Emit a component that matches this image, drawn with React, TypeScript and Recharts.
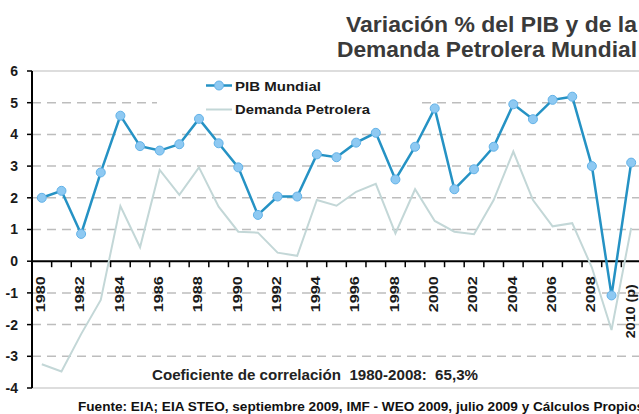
import { LineChart, Line, XAxis, YAxis, ReferenceLine } from 'recharts';

const YEARS = [
    '1980', '1981', '1982', '1983', '1984', '1985', '1986', '1987', '1988', '1989',
    '1990', '1991', '1992', '1993', '1994', '1995', '1996', '1997', '1998', '1999',
    '2000', '2001', '2002', '2003', '2004', '2005', '2006', '2007', '2008', '2009',
    '2010 (p)',
];

const PIB = [
    2.0, 2.22, 0.86, 2.8, 4.59, 3.63, 3.49, 3.69, 4.49, 3.72,
    2.96, 1.46, 2.04, 2.04, 3.37, 3.28, 3.74, 4.05, 2.58, 3.61,
    4.82, 2.27, 2.9, 3.61, 4.95, 4.48, 5.09, 5.19, 3.0, -1.08,
    3.11,
];

const DEMANDA = [
    -3.25, -3.48, -2.3, -1.22, 1.74, 0.44, 2.88, 2.09, 2.96, 1.72,
    0.93, 0.9, 0.27, 0.17, 1.93, 1.75, 2.19, 2.44, 0.88, 2.27,
    1.27, 0.93, 0.85, 1.93, 3.46, 1.93, 1.1, 1.2, -0.2, -2.17,
    1.05,
];

const Y_TICKS = [-4, -3, -2, -1, 0, 1, 2, 3, 4, 5, 6];
const DASHED = [5, 4, 3, 2, 1, -1, -2, -3];

const data = YEARS.map((year, i) => ({ year, pib: PIB[i], demanda: DEMANDA[i] }));

const FONT = '"Liberation Sans", Arial, sans-serif';
const BLUE = '#2592c4';
const GREY_LINE = '#c3d7d7';

// chart frame
const W = 641;
const H = 414;
const TOP = 71;
const X_H = 26;
const Y_W = 32;
const PLOT_H = H - TOP - X_H;
const ZERO_Y = TOP + PLOT_H * (6 / 10);
const HALF = (W - Y_W) / YEARS.length / 2;

const XTick = (props: any) => {
    const { x, index } = props;
    const label = YEARS[index];
    const last = index === YEARS.length - 1;
    const len = last ? 54 : 36;
    const bottom = ZERO_Y + (last ? 23 : 15) + len;
    return (
        <g>
            <line x1={x - HALF} x2={x - HALF} y1={ZERO_Y} y2={ZERO_Y + 6} stroke="#000" strokeWidth={1.5} />
            {index % 2 === 0 && (
                <text
                    transform={`translate(${x - 1},${bottom}) rotate(-90)`}
                    textAnchor="start"
                    dy="0.36em"
                    fontFamily={FONT}
                    fontWeight="bold"
                    fontSize={12}
                    fill="#1a1a1a"
                    textLength={len}
                    lengthAdjust="spacingAndGlyphs"
                >
                    {label}
                </text>
            )}
        </g>
    );
};

export default function App() {
    return (
        <div style={{ position: 'absolute', left: 0, top: 0, width: 639, height: 414, overflow: 'hidden', background: '#fff' }}>
            <LineChart width={W} height={H} data={data} margin={{ top: TOP, right: 0, bottom: 0, left: 0 }}>
                {DASHED.map((v) => (
                    <ReferenceLine key={v} y={v} stroke="#bdbdbd" strokeWidth={1.5} strokeDasharray="9 6" />
                ))}
                <ReferenceLine y={6} stroke="#d2d2d2" strokeWidth={1.5} />
                <ReferenceLine y={-4} stroke="#d2d2d2" strokeWidth={1.5} />
                <XAxis
                    dataKey="year"
                    interval={0}
                    height={X_H}
                    padding={{ left: HALF, right: HALF }}
                    axisLine={false}
                    tickLine={false}
                    tick={(p: any) => <XTick {...p} />}
                />
                <YAxis
                    domain={[-4, 6]}
                    ticks={Y_TICKS}
                    interval={0}
                    width={Y_W}
                    axisLine={{ stroke: '#000', strokeWidth: 2 }}
                    tickLine={{ stroke: '#000', strokeWidth: 1.5 }}
                    tickSize={5}
                    tickMargin={9}
                    tick={{ fill: '#1a1a1a', fontSize: 14, fontWeight: 'bold', fontFamily: FONT }}
                />
                <ReferenceLine y={0} stroke="#000" strokeWidth={2} />
                <Line
                    dataKey="demanda"
                    stroke={GREY_LINE}
                    strokeWidth={2}
                    dot={false}
                    isAnimationActive={false}
                />
                <Line
                    dataKey="pib"
                    stroke={BLUE}
                    strokeWidth={2.5}
                    dot={{ r: 4.5, fill: '#8ec9f2', stroke: '#62b2e8', strokeWidth: 1 }}
                    isAnimationActive={false}
                />
            </LineChart>

            <svg width={639} height={414} style={{ position: 'absolute', left: 0, top: 0, pointerEvents: 'none' }}>
                <g fontFamily={FONT} fontWeight="bold">
                    <text x={637} y={32} textAnchor="end" fontSize={22.5} fill="#3a3a3a" textLength={291} lengthAdjust="spacingAndGlyphs">
                        Variación % del PIB y de la
                    </text>
                    <text x={637} y={57} textAnchor="end" fontSize={22.5} fill="#3a3a3a" textLength={300} lengthAdjust="spacingAndGlyphs">
                        Demanda Petrolera Mundial
                    </text>

                    <rect x={157} y={76} width={263} height={36} fill="#fff" />
                    <line x1={206} x2={232} y1={85.5} y2={85.5} stroke={BLUE} strokeWidth={2.5} />
                    <circle cx={219} cy={85.5} r={4.5} fill="#8ec9f2" stroke="#62b2e8" />
                    <text x={235} y={90.5} fontSize={12.5} fill="#1a1a1a" textLength={86} lengthAdjust="spacingAndGlyphs">
                        PIB Mundial
                    </text>
                    <line x1={206} x2={232} y1={109.5} y2={109.5} stroke={GREY_LINE} strokeWidth={2} />
                    <text x={235} y={114} fontSize={12.5} fill="#1a1a1a" textLength={135} lengthAdjust="spacingAndGlyphs">
                        Demanda Petrolera
                    </text>

                    <text x={152} y={380} fontSize={14} fill="#222" style={{ whiteSpace: 'pre' }} textLength={326} lengthAdjust="spacingAndGlyphs">
                        {'Coeficiente de correlación  1980-2008:  65,3%'}
                    </text>
                    <text x={78} y={411} fontSize={12} fill="#111" textLength={566} lengthAdjust="spacingAndGlyphs">
                        Fuente: EIA; EIA STEO, septiembre 2009, IMF - WEO 2009, julio 2009 y Cálculos Propios
                    </text>
                </g>
            </svg>
        </div>
    );
}
